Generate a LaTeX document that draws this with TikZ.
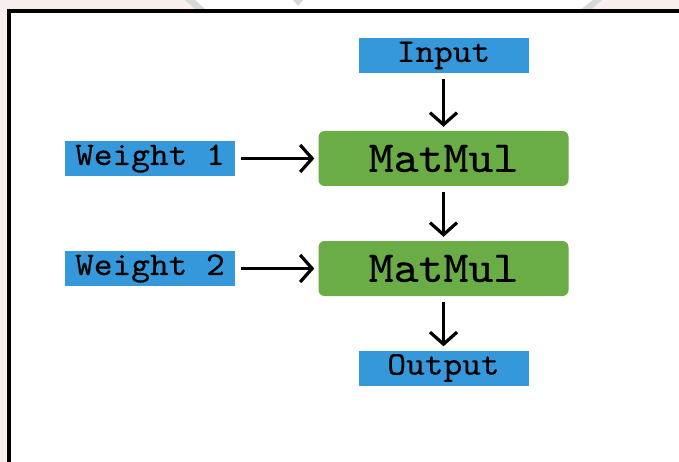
\documentclass[tikz,border=0pt]{standalone}
\usepackage{fontspec}
\setmonofont[FakeStretch=1.08,FakeBold=0.4]{lmmono10-regular.otf}
\usetikzlibrary{arrows.meta}
\definecolor{tensorblue}{RGB}{52,152,219}
\definecolor{opgreen}{RGB}{106,172,70}
\definecolor{bgpink}{RGB}{248,238,238}
\definecolor{stripegray}{RGB}{216,216,216}

\begin{document}
\begin{tikzpicture}[x=1pt,y=-1pt,
		tensor/.style={fill=tensorblue, minimum width=170pt, minimum height=35pt, inner sep=0pt, font=\ttfamily\fontsize{33}{33}\selectfont},
		op/.style={fill=opgreen, rounded corners=6pt, minimum width=250pt, minimum height=55pt, inner sep=0pt, font=\ttfamily\fontsize{44}{44}\selectfont},
		flow/.style={line width=3.2pt, -{Straight Barb[length=12pt,width=27pt]}, shorten <=6pt, shorten >=4pt}]
		\useasboundingbox (0,0) rectangle (679,462);
		\clip (0,0) rectangle (679,462);
		\fill[bgpink] (0,0) rectangle (679,462);
		\fill[white] (190,0) -- (598,0) -- (586,11) -- (200,11) -- cycle;
		\fill[stripegray] (185,0) -- (195,0) -- (206,10) -- (196,10) -- cycle;
		\fill[stripegray] (293,0) -- (303,0) -- (298,6) -- cycle;
		\fill[stripegray] (593,0) -- (602,0) -- (591,10) -- (580,10) -- cycle;
		\fill[white] (9,11) rectangle (679,462);
		\draw[line width=4pt] (9,470) -- (9,11) -- (690,11);
		\node[tensor] (input) at (443.5,55.5) {Input};
		\node[op] (mm1) at (443.5,158.5) {MatMul};
		\node[op] (mm2) at (443.5,268.5) {MatMul};
		\node[tensor] (w1) at (150,158.5) {Weight 1};
		\node[tensor] (w2) at (150,268.5) {Weight 2};
		\node[tensor] (output) at (443.5,368) {Output};
		\draw[flow] (input) -- (mm1);
		\draw[flow] (mm1) -- (mm2);
		\draw[flow] (mm2) -- (output);
		\draw[flow] (w1) -- (mm1);
		\draw[flow] (w2) -- (mm2);
	\end{tikzpicture}
\end{document}
